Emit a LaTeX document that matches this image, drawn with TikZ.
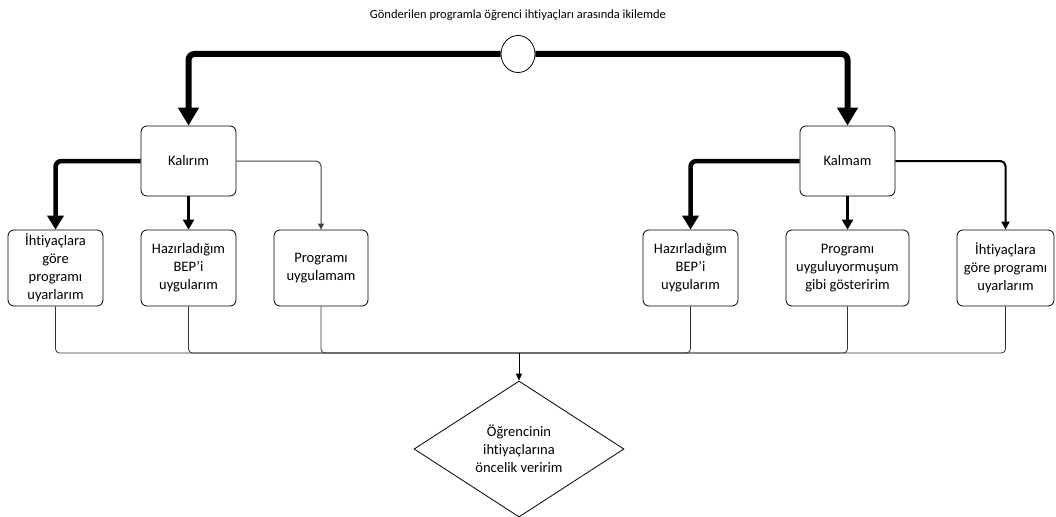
\documentclass[tikz,border=0pt]{standalone}
\usepackage{fontspec}
\setmainfont[Ligatures=NoCommon]{Carlito}
\usetikzlibrary{arrows.meta,shapes.geometric}
\begin{document}
\begin{tikzpicture}[x=1pt,y=-1pt,
  box/.style={draw,rounded corners=6pt,line width=0.8pt,align=center,inner sep=2pt,
    font=\fontsize{14.5}{18}\selectfont},
  thickA/.style={line width=6pt,rounded corners=6pt,-{Triangle[length=18pt,width=20pt]}},
  thickB/.style={line width=4.5pt,rounded corners=6pt,-{Triangle[length=14pt,width=16pt]}},
  thickC/.style={line width=3pt,rounded corners=5pt,-{Triangle[length=10pt,width=11pt]}},
  thickD/.style={line width=2pt,rounded corners=5pt,-{Triangle[length=8pt,width=8pt]}},
  thinA/.style={line width=1pt,draw=black!75,rounded corners=5pt,-{Triangle[length=6pt,width=6pt]}},
  merge/.style={line width=0.8pt,draw=black!80,rounded corners=4pt},
]
\useasboundingbox (0,0) rectangle (1056,516);
\node[font=\fontsize{12.5}{15}\selectfont] (title) at (518,15) {Gönderilen programla öğrenci ihtiyaçları arasında ikilemde};
\node[draw,ellipse,line width=0.8pt,minimum width=34pt,minimum height=37pt,inner sep=0pt] (c) at (518,54) {};

\node[box,minimum width=95pt,minimum height=70pt] (k1) at (188.5,161) {Kalırım};
\node[box,minimum width=95pt,minimum height=70pt] (k2) at (847.5,161) {Kalmam};

\node[box,minimum width=95pt,minimum height=76pt] (a1) at (55.5,268) {İhtiyaçlara\\göre\\programı\\uyarlarım};
\node[box,minimum width=95pt,minimum height=76pt] (a2) at (188.5,268) {Hazırladığım\\BEP’i\\uygularım};
\node[box,minimum width=94pt,minimum height=76pt] (a3) at (321,268) {Programı\\uygulamam};

\node[box,minimum width=95pt,minimum height=76pt] (b1) at (690.5,268) {Hazırladığım\\BEP’i\\uygularım};
\node[box,minimum width=123pt,minimum height=76pt] (b2) at (847.5,268) {Programı\\uyguluyormuşum\\gibi gösteririm};
\node[box,minimum width=97pt,minimum height=76pt] (b3) at (1005.5,268) {İhtiyaçlara\\göre programı\\uyarlarım};

\node[draw,diamond,line width=0.8pt,minimum width=210pt,minimum height=136pt,inner sep=0pt,align=center,
  font=\fontsize{14.5}{18}\selectfont] (d) at (519,449) {Öğrencinin\\ihtiyaçlarına\\öncelik veririm};

\coordinate (m) at (519,353);

\draw[thickA] (c.west) -| (k1.north);
\draw[thickA] (c.east) -| (k2.north);

\draw[thickB] (k1.west) -| (a1.north);
\draw[thickC] (k1.south) -- (a2.north);
\draw[thinA] (k1.east) -| (a3.north);

\draw[thickB] (k2.west) -| (b1.north);
\draw[thickC] (k2.south) -- (b2.north);
\draw[thickD] (k2.east) -| (b3.north);

\foreach \n in {a1,a2,a3,b1,b2,b3}{
  \draw[merge] (\n.south) |- (m);
}
\draw[line width=1pt,-{Triangle[length=7pt,width=6pt]}] (m) -- (d.north);
\end{tikzpicture}
\end{document}
